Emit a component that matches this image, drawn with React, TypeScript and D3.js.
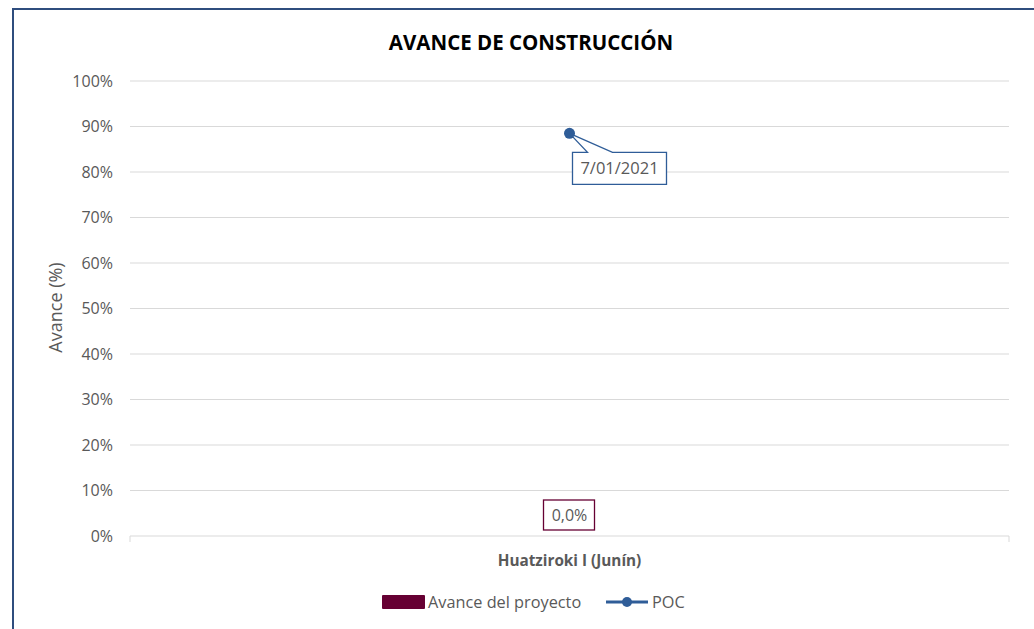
import { useEffect, useRef } from 'react';
import * as d3 from 'd3';

// chart values
const categories = ['Huatziroki I (Junín)'];
const avance = [0.0];
const poc = [0.885];
const pocLabels = ['7/01/2021'];
const yTicks = [0, 0.1, 0.2, 0.3, 0.4, 0.5, 0.6, 0.7, 0.8, 0.9, 1.0];

const COLORS = {
    frame: '#2F4D7E',
    grid: '#D9D9D9',
    text: '#595959',
    title: '#000000',
    bar: '#660033',
    poc: '#2F5D98',
};

const FONT = '"Open Sans", Lato, "Noto Sans", sans-serif';

export default function App() {
    const svgRef = useRef<SVGSVGElement | null>(null);
    const width = 1034;
    const height = 629;

    useEffect(() => {
        document.body.style.margin = '0';
        const svg = d3.select(svgRef.current);
        svg.selectAll('*').remove();

        const margin = { top: 81, right: 25, bottom: 93, left: 130 };
        const w = width - margin.left - margin.right;
        const h = height - margin.top - margin.bottom;

        // outer frame (cut off on the right / bottom)
        svg.append('rect')
            .attr('x', 13).attr('y', 9)
            .attr('width', 1040).attr('height', 640)
            .attr('fill', '#fff')
            .attr('stroke', COLORS.frame)
            .attr('stroke-width', 2);

        svg.append('text')
            .attr('x', 531).attr('y', 50)
            .attr('text-anchor', 'middle')
            .style('font-family', FONT).style('font-weight', 700)
            .style('font-size', '20.5px').style('fill', COLORS.title)
            .text('AVANCE DE CONSTRUCCIÓN');

        const g = svg.append('g').attr('transform', `translate(${margin.left},${margin.top})`);

        const x = d3.scaleBand().domain(categories).range([0, w]);
        const y = d3.scaleLinear().domain([0, 1]).range([h, 0]);

        // grid lines
        g.append('g')
            .selectAll('line')
            .data(yTicks.filter(d => d > 0))
            .join('line')
            .attr('x1', 0).attr('x2', w)
            .attr('y1', d => y(d)).attr('y2', d => y(d))
            .attr('stroke', COLORS.grid)
            .attr('stroke-width', 1);

        // y axis labels
        g.append('g')
            .selectAll('text')
            .data(yTicks)
            .join('text')
            .attr('x', -17)
            .attr('y', d => y(d) + 5.5)
            .attr('text-anchor', 'end')
            .style('font-family', FONT).style('font-size', '16px')
            .style('fill', COLORS.text)
            .text(d => `${Math.round(d * 100)}%`);

        svg.append('text')
            .attr('transform', `translate(62,${margin.top + h / 2 - 1}) rotate(-90)`)
            .attr('text-anchor', 'middle')
            .style('font-family', FONT).style('font-size', '18px')
            .style('fill', COLORS.text)
            .text('Avance (%)');

        // bars
        const bw = x.bandwidth() * 0.45;
        g.selectAll('rect.bar')
            .data(categories)
            .join('rect')
            .attr('class', 'bar')
            .attr('x', d => (x(d) ?? 0) + x.bandwidth() / 2 - bw / 2)
            .attr('y', (_, i) => y(avance[i]))
            .attr('width', bw)
            .attr('height', (_, i) => h - y(avance[i]))
            .attr('fill', COLORS.bar);

        // category axis
        const axisPath = `M0,${h + 6}V${h}H${w}V${h + 6}`;
        g.append('path')
            .attr('d', axisPath)
            .attr('fill', 'none')
            .attr('stroke', COLORS.grid)
            .attr('stroke-width', 1);

        g.selectAll('text.cat')
            .data(categories)
            .join('text')
            .attr('class', 'cat')
            .attr('x', d => (x(d) ?? 0) + x.bandwidth() / 2)
            .attr('y', h + 30)
            .attr('text-anchor', 'middle')
            .style('font-family', FONT).style('font-weight', 700)
            .style('font-size', '15.3px').style('fill', COLORS.text)
            .text(d => d);

        // bar data labels
        categories.forEach((c, i) => {
            const cx = (x(c) ?? 0) + x.bandwidth() / 2;
            const top = y(avance[i]);
            const bw2 = 51, bh = 30;
            g.append('rect')
                .attr('x', cx - bw2 / 2 - 0.5).attr('y', top - 6 - bh)
                .attr('width', bw2).attr('height', bh)
                .attr('fill', '#fff')
                .attr('stroke', COLORS.bar).attr('stroke-width', 1.3);
            g.append('text')
                .attr('x', cx).attr('y', top - 6 - bh / 2 + 6)
                .attr('text-anchor', 'middle')
                .style('font-family', FONT).style('font-size', '16px')
                .style('fill', COLORS.text)
                .text(`${(avance[i] * 100).toFixed(1).replace('.', ',')}%`);
        });

        // POC points with callout labels
        categories.forEach((c, i) => {
            const px = (x(c) ?? 0) + x.bandwidth() / 2;
            const py = y(poc[i]);
            const bx = px + 3, by = py + 19, bwid = 94, bh = 32;
            const wl = px + 18, wr = px + 43;
            const path = `M${bx},${by}H${wl}L${px},${py}L${wr},${by}H${bx + bwid}V${by + bh}H${bx}Z`;
            g.append('path')
                .attr('d', path)
                .attr('fill', '#fff')
                .attr('stroke', COLORS.poc).attr('stroke-width', 1.3)
                .attr('stroke-linejoin', 'miter');
            g.append('text')
                .attr('x', bx + bwid / 2).attr('y', by + bh / 2 + 6)
                .attr('text-anchor', 'middle')
                .style('font-family', FONT).style('font-size', '16.5px')
                .style('fill', COLORS.text)
                .text(pocLabels[i]);
            g.append('circle')
                .attr('cx', px).attr('cy', py).attr('r', 5.5)
                .attr('fill', COLORS.poc);
        });

        // legend
        const lg = svg.append('g').attr('transform', 'translate(382,595)');
        lg.append('rect')
            .attr('x', 0).attr('y', 0).attr('width', 43).attr('height', 14)
            .attr('rx', 1)
            .attr('fill', COLORS.bar);
        lg.append('text')
            .attr('x', 46).attr('y', 13)
            .style('font-family', FONT).style('font-size', '16.3px')
            .style('fill', COLORS.text)
            .text('Avance del proyecto');
        lg.append('line')
            .attr('x1', 224).attr('x2', 266).attr('y1', 7).attr('y2', 7)
            .attr('stroke', COLORS.poc).attr('stroke-width', 3);
        lg.append('circle')
            .attr('cx', 245).attr('cy', 7).attr('r', 5)
            .attr('fill', COLORS.poc);
        lg.append('text')
            .attr('x', 270).attr('y', 13)
            .style('font-family', FONT).style('font-size', '16.3px')
            .style('fill', COLORS.text)
            .text('POC');
    }, []);

    return (
        <svg ref={svgRef} width={width} height={height}
            style={{ display: 'block', position: 'absolute', left: 0, top: 0, background: '#fff' }} />
    );
}
